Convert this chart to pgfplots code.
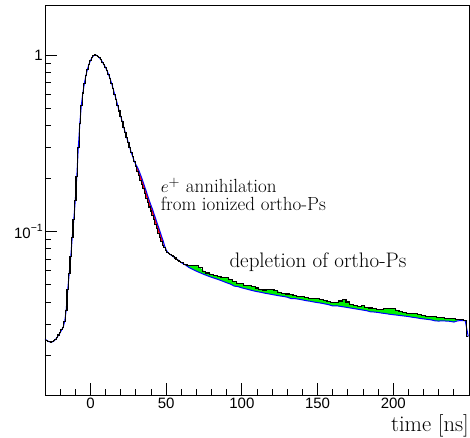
\documentclass[border=0pt]{standalone}
\usepackage{fontspec}
\newfontfamily\arial{Liberation Sans}
\usepackage{pgfplots}
\usepackage{pgfplotstable}
\pgfplotsset{compat=1.18}
\definecolor{rootred}{RGB}{255,0,0}
\definecolor{rootgreen}{RGB}{0,240,0}
\definecolor{rootblue}{RGB}{0,0,255}

\pgfplotstableread{
x y
-30 0.0247
-29 0.0243
-28 0.0240
-27 0.0238
-26 0.0237
-25 0.0238
-24 0.0241
-23 0.0246
-22 0.0252
-21 0.0260
-20 0.0268
-19 0.0278
-18 0.0288
-17 0.0310
-16 0.0360
-15 0.0470
-14 0.0580
-13 0.0720
-12 0.0930
-11 0.117
-10 0.150
-9 0.205
-8 0.300
-7 0.410
-6 0.520
-5 0.610
-4 0.690
-3 0.765
-2 0.830
-1 0.885
0 0.930
1 0.965
2 0.990
3 1.000
4 0.997
5 0.982
6 0.963
7 0.940
8 0.910
9 0.880
10 0.850
11 0.815
12 0.775
13 0.735
14 0.690
15 0.645
16 0.600
17 0.560
18 0.518
19 0.482
20 0.450
21 0.420
22 0.390
23 0.365
24 0.340
25 0.320
26 0.300
27 0.280
28 0.265
29 0.250
30 0.235
31 0.219
32 0.207
33 0.196
34 0.185
35 0.175
36 0.165
37 0.155
38 0.146
39 0.138
40 0.131
41 0.124
42 0.117
43 0.110
44 0.104
45 0.098
46 0.093
47 0.088
48 0.084
49 0.081
50 0.078
51 0.0765
52 0.0752
53 0.0740
54 0.0730
55 0.0720
56 0.0710
57 0.0700
58 0.0690
59 0.0680
60 0.0670
62.5 0.0655
65 0.0645
67.5 0.0640
70 0.0642
72.5 0.0625
75 0.0598
77.5 0.0584
80 0.0575
82.5 0.0563
85 0.0556
87.5 0.0552
90 0.0550
92.5 0.0538
95 0.0520
97.5 0.0512
100 0.0508
102.5 0.0496
105 0.0494
107.5 0.0490
110 0.0480
112.5 0.0472
115 0.0468
117.5 0.0470
120 0.0472
122.5 0.0466
125 0.0455
127.5 0.0448
130 0.0444
132.5 0.0440
135 0.0436
137.5 0.0432
140 0.0429
142.5 0.0425
145 0.0420
147.5 0.0420
150 0.0420
152.5 0.0412
155 0.0406
157.5 0.0402
160 0.0399
162.5 0.0398
165 0.0405
167.5 0.0412
170 0.0400
172.5 0.0386
175 0.0382
177.5 0.0379
180 0.0380
182.5 0.0373
185 0.0370
187.5 0.0367
190 0.0364
192.5 0.0362
195 0.0366
197.5 0.0368
200 0.0366
202.5 0.0360
205 0.0352
207.5 0.0348
210 0.0346
212.5 0.0343
215 0.0344
217.5 0.0338
220 0.0335
222.5 0.0333
225 0.0333
227.5 0.0331
230 0.0327
232.5 0.0325
235 0.0323
237.5 0.0322
240 0.0321
242.5 0.0319
245 0.0317
247.5 0.0316
249.5 0.0255
}\blackdata

\pgfplotstableread{
x y
-30 0.0247
-29 0.0243
-28 0.0240
-27 0.0238
-26 0.0237
-25 0.0238
-24 0.0241
-23 0.0246
-22 0.0252
-21 0.0260
-20 0.0268
-19 0.0278
-18 0.0288
-17 0.0310
-16 0.0360
-15 0.0470
-14 0.0580
-13 0.0720
-12 0.0930
-11 0.117
-10 0.150
-9 0.205
-8 0.300
-7 0.410
-6 0.520
-5 0.610
-4 0.690
-3 0.765
-2 0.830
-1 0.885
0 0.930
1 0.965
2 0.990
3 1.000
4 0.997
5 0.982
6 0.963
7 0.940
8 0.910
9 0.880
10 0.850
11 0.815
12 0.775
13 0.735
14 0.690
15 0.645
16 0.600
17 0.560
18 0.518
19 0.482
20 0.450
21 0.420
22 0.390
23 0.365
24 0.340
25 0.320
26 0.300
27 0.280
28 0.265
29 0.250
30 0.240
31 0.232
32 0.222
33 0.211
34 0.200
35 0.189
36 0.178
37 0.168
38 0.158
39 0.149
40 0.141
41 0.134
42 0.126
43 0.119
44 0.112
45 0.106
46 0.100
47 0.094
48 0.089
49 0.083
50 0.079
51 0.0765
52 0.0752
53 0.0740
54 0.0730
55 0.0720
56 0.0710
57 0.0700
58 0.0690
59 0.0680
60 0.0668
62.5 0.0650
65 0.0628
67.5 0.0612
70 0.0598
72.5 0.0585
75 0.0573
77.5 0.0562
80 0.0552
82.5 0.0543
85 0.0534
87.5 0.0524
90 0.0514
92.5 0.0505
95 0.0492
97.5 0.0489
100 0.0481
102.5 0.0475
105 0.0469
107.5 0.0463
110 0.0458
112.5 0.0454
115 0.0449
117.5 0.0445
120 0.0441
122.5 0.0437
125 0.0433
127.5 0.0430
130 0.0426
132.5 0.0418
135 0.0418
137.5 0.0415
140 0.0411
142.5 0.0407
145 0.0404
147.5 0.0400
150 0.0397
152.5 0.0394
155 0.0390
157.5 0.0386
160 0.0380
162.5 0.0381
165 0.0378
167.5 0.0375
170 0.0372
172.5 0.0369
175 0.0366
177.5 0.0363
180 0.0360
182.5 0.0357
185 0.0352
187.5 0.0351
190 0.0349
192.5 0.0346
195 0.0344
197.5 0.0341
200 0.0339
202.5 0.0337
205 0.0335
207.5 0.0333
210 0.0331
212.5 0.0328
215 0.0326
217.5 0.0323
220 0.0321
222.5 0.0319
225 0.0317
227.5 0.0313
230 0.0312
232.5 0.0313
235 0.0312
237.5 0.0311
240 0.0308
242.5 0.0313
245 0.0314
247.5 0.0314
249.5 0.0255
}\bluedata

% red band: black edge forward, blue edge backward
\pgfplotstableread{
x y
30.5 0.227
31 0.219
32 0.207
33 0.196
34 0.185
35 0.175
36 0.165
37 0.155
38 0.146
39 0.138
40 0.131
41 0.124
42 0.117
43 0.110
44 0.104
45 0.098
46 0.093
47 0.088
48 0.084
48.5 0.0825
48 0.089
47 0.094
46 0.100
45 0.106
44 0.112
43 0.119
42 0.126
41 0.134
40 0.141
39 0.149
38 0.158
37 0.168
36 0.178
35 0.189
34 0.200
33 0.211
32 0.222
31 0.232
}\redband

% green band: black edge forward, blue edge backward
\pgfplotstableread{
x y
62.5 0.0655
65 0.0645
67.5 0.0640
70 0.0642
72.5 0.0625
75 0.0598
77.5 0.0584
80 0.0575
82.5 0.0563
85 0.0556
87.5 0.0552
90 0.0550
92.5 0.0538
95 0.0520
97.5 0.0512
100 0.0508
102.5 0.0496
105 0.0494
107.5 0.0490
110 0.0480
112.5 0.0472
115 0.0468
117.5 0.0470
120 0.0472
122.5 0.0466
125 0.0455
127.5 0.0448
130 0.0444
132.5 0.0440
135 0.0436
137.5 0.0432
140 0.0429
142.5 0.0425
145 0.0420
147.5 0.0420
150 0.0420
152.5 0.0412
155 0.0406
157.5 0.0402
160 0.0399
162.5 0.0398
165 0.0405
167.5 0.0412
170 0.0400
172.5 0.0386
175 0.0382
177.5 0.0379
180 0.0380
182.5 0.0373
185 0.0370
187.5 0.0367
190 0.0364
192.5 0.0362
195 0.0366
197.5 0.0368
200 0.0366
202.5 0.0360
205 0.0352
207.5 0.0348
210 0.0346
212.5 0.0343
215 0.0344
217.5 0.0338
220 0.0335
222.5 0.0333
225 0.0333
227.5 0.0331
230 0.0327
232.5 0.0325
235 0.0323
237.5 0.0322
240 0.0321
242.5 0.0319
242.5 0.0313
240 0.0308
237.5 0.0311
235 0.0312
232.5 0.0313
230 0.0312
227.5 0.0313
225 0.0317
222.5 0.0319
220 0.0321
217.5 0.0323
215 0.0326
212.5 0.0328
210 0.0331
207.5 0.0333
205 0.0335
202.5 0.0337
200 0.0339
197.5 0.0341
195 0.0344
192.5 0.0346
190 0.0349
187.5 0.0351
185 0.0352
182.5 0.0357
180 0.0360
177.5 0.0363
175 0.0366
172.5 0.0369
170 0.0372
167.5 0.0375
165 0.0378
162.5 0.0381
160 0.0380
157.5 0.0386
155 0.0390
152.5 0.0394
150 0.0397
147.5 0.0400
145 0.0404
142.5 0.0407
140 0.0411
137.5 0.0415
135 0.0418
132.5 0.0418
130 0.0426
127.5 0.0430
125 0.0433
122.5 0.0437
120 0.0441
117.5 0.0445
115 0.0449
112.5 0.0454
110 0.0458
107.5 0.0463
105 0.0469
102.5 0.0475
100 0.0481
97.5 0.0489
95 0.0492
92.5 0.0505
90 0.0514
87.5 0.0524
85 0.0534
82.5 0.0543
80 0.0552
77.5 0.0562
75 0.0573
72.5 0.0585
70 0.0598
67.5 0.0612
65 0.0628
62.5 0.0650
}\greenband

\begin{document}
\begin{tikzpicture}
\begin{axis}[
  at={(0,0)}, anchor=south west,
  scale only axis, width=424pt, height=390pt,
  ymode=log,
  xmin=-30, xmax=250, ymin=0.0119, ymax=1.92,
  xtick={0,50,100,150,200},
  xticklabels={0,50,100,150,200},
  minor xtick={-20,-10,10,20,30,40,60,70,80,90,110,120,130,140,160,170,180,190,210,220,230,240},
  ytick={0.1,1},
  yticklabels={{10\raisebox{0.48em}{\fontsize{10.5}{10.5}\selectfont −1}},1},
  minor ytick={0.02,0.03,0.04,0.05,0.06,0.07,0.08,0.09,0.2,0.3,0.4,0.5,0.6,0.7,0.8,0.9},
  tick align=inside,
  xtick pos=bottom, ytick pos=left,
  major tick length=12pt, minor tick length=6pt,
  tick style={black, line width=0.8pt},
  axis line style={line width=0.9pt},
  ticklabel style={font=\arial\fontsize{15}{15}\selectfont},
  xticklabel style={inner sep=2pt, yshift=-1pt},
  yticklabel style={inner sep=2pt},
]
\addplot[fill=rootred, draw=none] table {\redband};
\addplot[fill=rootgreen, draw=none] table {\greenband};
\addplot[rootblue, line width=1.0pt] table {\bluedata};
\addplot[black, line width=1.1pt, const plot mark mid] table {\blackdata};
\end{axis}
\node[anchor=base west, inner sep=0, font=\fontsize{19}{20}\selectfont] at (115.7pt,202.3pt) {$e^+$ annihilation};
\node[anchor=base west, inner sep=0, font=\fontsize{19}{20}\selectfont] at (115.7pt,184.3pt) {from ionized ortho-Ps};
\node[anchor=base west, inner sep=0, font=\fontsize{21}{22}\selectfont] at (184.3pt,127.7pt) {depletion of ortho-Ps};
\node[anchor=base east, inner sep=0, font=\fontsize{22.5}{24}\selectfont] at (424pt,-36.7pt) {time [ns]};
\pgfresetboundingbox
\useasboundingbox (-45pt,-42pt) rectangle (425pt,395pt);
\end{tikzpicture}
\end{document}
